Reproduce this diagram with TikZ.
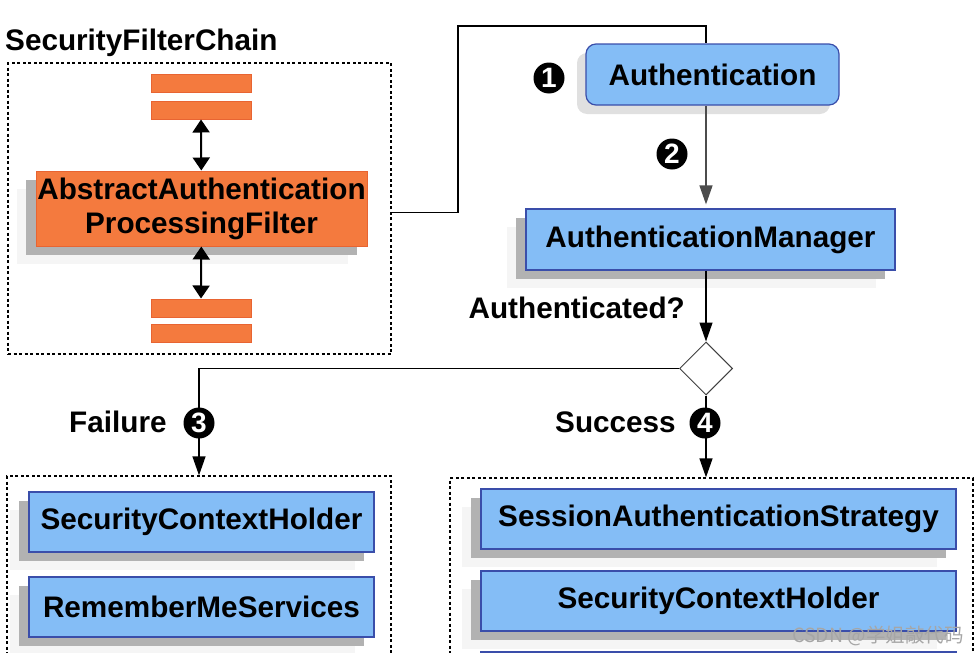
\documentclass[tikz,border=0pt]{standalone}
\usepackage{fontspec}
\setmainfont{Liberation Sans}
\newfontfamily\cjkfont{Noto Sans CJK SC}
\usetikzlibrary{arrows.meta,shapes.geometric,shadows}
\definecolor{boxblue}{RGB}{132,189,246}
\definecolor{boxline}{RGB}{58,78,170}
\definecolor{filterorange}{RGB}{244,122,62}
\definecolor{filterline}{RGB}{232,100,50}
\begin{document}
\begin{tikzpicture}[x=1pt, y=-1pt,
  >={Triangle[width=13pt,length=19pt]},
  lbl/.style={font=\fontsize{29.7}{34}\selectfont\bfseries},
  caption/.style={lbl, inner sep=0pt},
  shade2/.style={general shadow={shadow xshift=-19pt, shadow yshift=-18pt, fill=black!4},
    general shadow={shadow xshift=-10pt, shadow yshift=-9pt, fill=black!30}},
  blueplain/.style={lbl, rectangle, draw=boxline, fill=boxblue, line width=1.2pt, inner sep=0pt},
  bluebox/.style={blueplain, shade2},
  filterbox/.style={lbl, rectangle, draw=filterline, fill=filterorange, line width=1pt, inner sep=0pt},
  group/.style={draw, dash pattern=on 3pt off 2.5pt, line width=1.3pt, inner sep=0pt},
  badge/.style={circle, fill=black, text=white, inner sep=0pt, minimum size=31pt,
    font=\fontsize{28}{28}\selectfont\bfseries},
  flow/.style={->, line width=1.3pt},
  link/.style={<->, >={Triangle[width=17pt,length=13pt]}, line width=2pt}]
\useasboundingbox (0,0) rectangle (980,653);
\clip (0,0) rectangle (980,653);

% filter chain
\node[caption, anchor=base west] (chaintitle) at (5,50) {SecurityFilterChain};
\node[group, minimum width=383pt, minimum height=291pt] (chain) at (199.5,208.5) {};
\node[filterbox, minimum width=100pt, minimum height=18pt] (bar1) at (201,83.5) {};
\node[filterbox, minimum width=100pt, minimum height=18pt] (bar2) at (201,110) {};
\node[filterbox, minimum width=100pt, minimum height=18pt] (bar3) at (201,308) {};
\node[filterbox, minimum width=100pt, minimum height=18pt] (bar4) at (201,333) {};
\node[filterbox, shade2, align=center, minimum width=331pt, minimum height=75pt] (filter)
  at (201.5,208.5) {AbstractAuthentication\\ProcessingFilter};

% authentication
\node[blueplain, rounded corners=10pt, minimum width=253pt, minimum height=61pt,
  general shadow={shadow xshift=-9pt, shadow yshift=-9pt, fill=black!12}] (auth)
  at (712.5,74.5) {Authentication};
\node[bluebox, minimum width=369pt, minimum height=61pt] (mgr) at (710.5,239.5) {AuthenticationManager};
\node[caption, anchor=base east] (authq) at (685,318) {Authenticated?};
\node[diamond, draw=black!75, fill=white, line width=1pt, inner sep=0pt,
  minimum width=53pt, minimum height=53pt] (dia) at (706,368.5) {};

% failure / success
\node[caption, anchor=base west] (failtxt) at (69,432) {Failure};
\node[caption, anchor=base west] (succtxt) at (555,432) {Success};
\node[group, minimum width=384pt, minimum height=200pt] (fail) at (199,576) {};
\node[group, minimum width=523pt, minimum height=200pt] (succ) at (711.5,578) {};
\node[bluebox, minimum width=345pt, minimum height=60pt] (failholder) at (201.5,522) {SecurityContextHolder};
\node[bluebox, minimum width=345pt, minimum height=60pt] (remember) at (201.5,607) {RememberMeServices};
\node[bluebox, minimum width=475pt, minimum height=60pt] (strategy) at (718.5,519) {SessionAuthenticationStrategy};
\node[bluebox, minimum width=475pt, minimum height=60pt] (succholder) at (718.5,601) {SecurityContextHolder};
\node[bluebox, minimum width=475pt, minimum height=60pt] (succmore) at (718.5,682) {};

% connectors
\foreach \from/\to in {bar2/filter, filter/bar3}
  \draw[link] (\from) -- (\to);
\coordinate (turn) at (458,26);
\draw[line width=1.3pt] ([yshift=-4pt]chain.east) -| (turn) -| (dia.north |- auth.north);
\draw[flow, black!70, shorten >=4pt] (dia.north |- auth.south) -- (dia.north |- mgr.north);
\draw[flow] (dia.north |- mgr.south) -- (dia.north);
\draw[flow] (dia.west) -| (fail.north);
\draw[flow] (dia.south) -- (dia.south |- succ.north);

\node[badge] (n1) at (549,78) {1};
\node[badge] (n2) at (672,154) {2};
\node[badge] (n3) at (199,423) {3};
\node[badge] (n4) at (705,423) {4};

\node[anchor=base east, inner sep=0pt, text=black!35, font=\cjkfont\fontsize{19.5}{20}\selectfont] (mark)
  at (964,642) {CSDN @学姐敲代码};
\end{tikzpicture}
\end{document}
